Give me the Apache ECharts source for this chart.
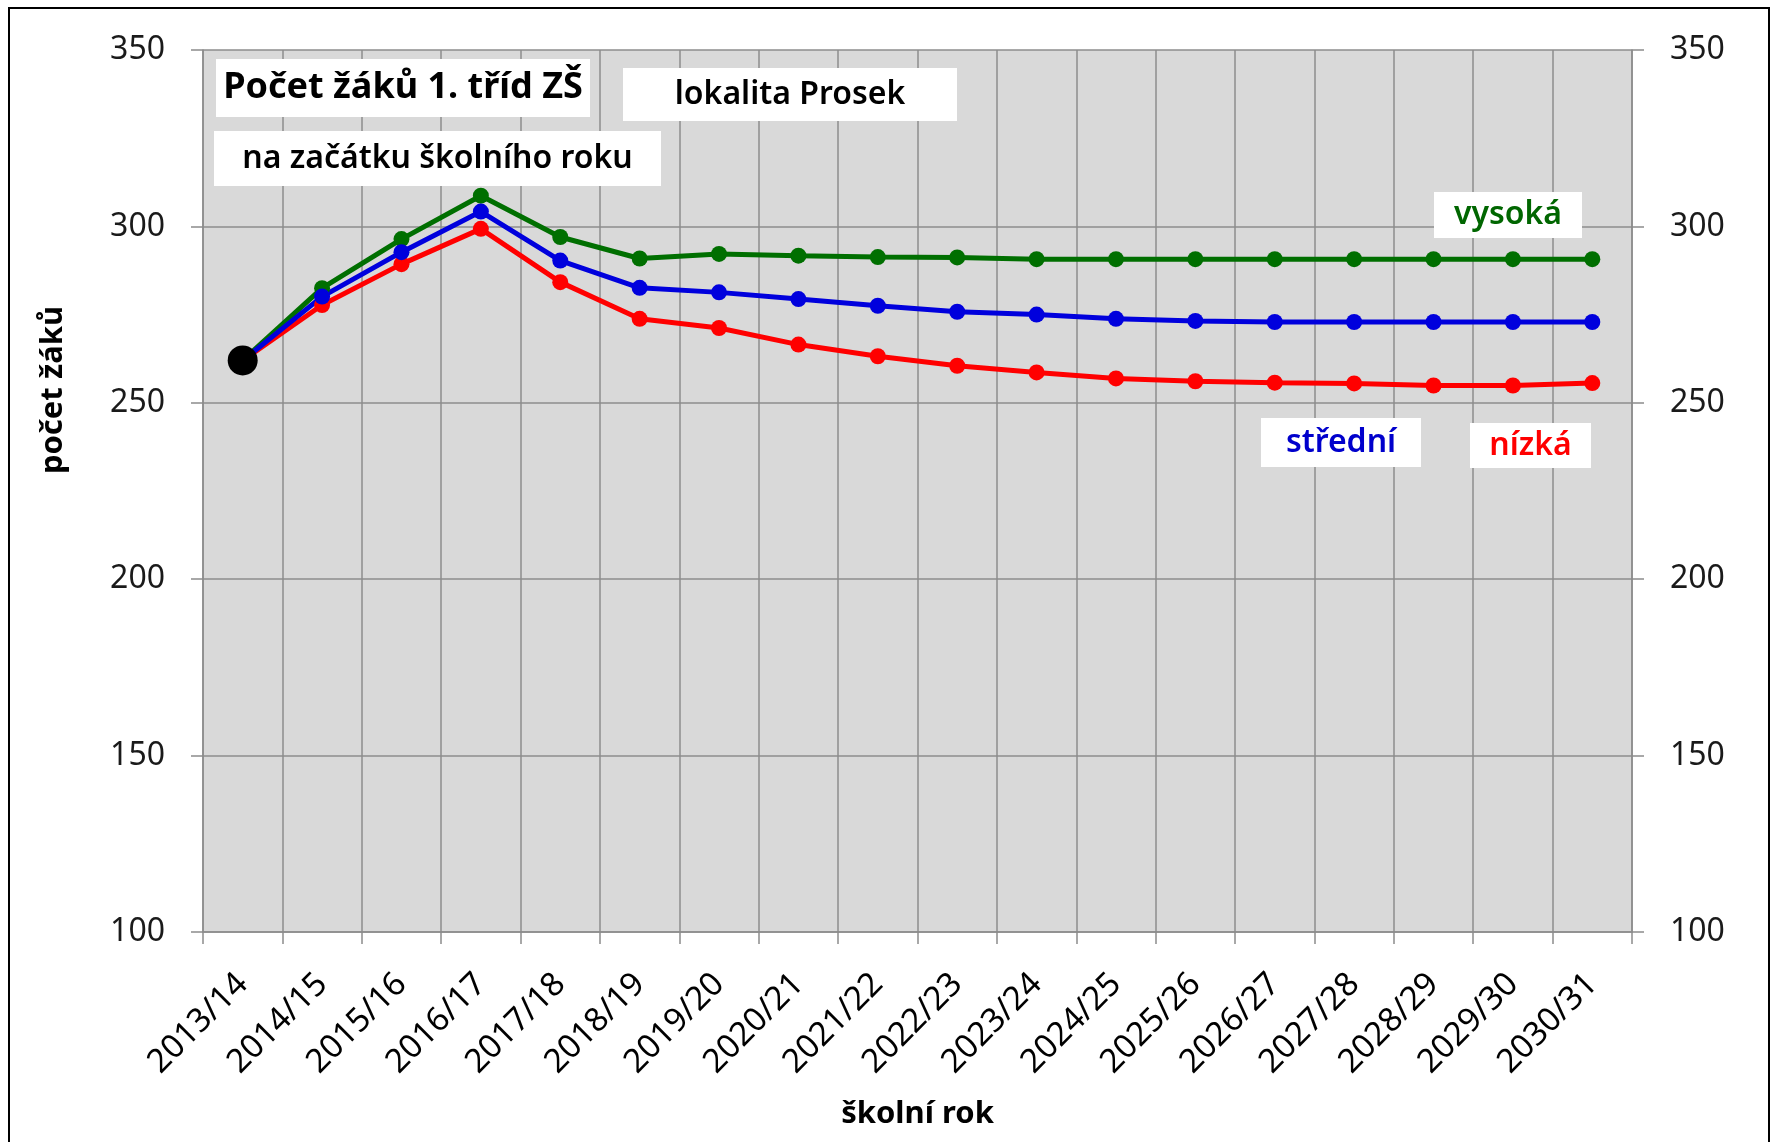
<!DOCTYPE html>
<html>
<head>
<meta charset="utf-8">
<title>Počet žáků 1. tříd ZŠ – lokalita Prosek</title>
<script src="https://cdn.jsdelivr.net/npm/echarts@6/dist/echarts.min.js"></script>
<style>
  html, body { margin: 0; padding: 0; background: #fff; }
  #chart { width: 1775px; height: 1142px; }
</style>
</head>
<body>
<div id="chart"></div>
<script>
// school years on the x axis
const years = [
  "2013/14", "2014/15", "2015/16", "2016/17", "2017/18", "2018/19",
  "2019/20", "2020/21", "2021/22", "2022/23", "2023/24", "2024/25",
  "2025/26", "2026/27", "2027/28", "2028/29", "2029/30", "2030/31",
];

// actual value (only first year)
const skutecnost = [262, null, null, null, null, null, null, null, null,
  null, null, null, null, null, null, null, null, null];

// projection variants
const vysoka = [262, 282.5, 296.4, 308.7, 297, 290.9, 292.2, 291.7, 291.3,
  291.2, 290.7, 290.7, 290.7, 290.7, 290.7, 290.7, 290.7, 290.7];
const stredni = [262, 280.1, 292.7, 304.2, 290.3, 282.6, 281.3, 279.4, 277.5,
  275.8, 275, 273.8, 273.2, 272.9, 272.9, 272.9, 272.9, 272.9];
const nizka = [262, 277.7, 289.3, 299.3, 284.2, 273.8, 271.2, 266.5, 263.2,
  260.5, 258.6, 256.9, 256.1, 255.7, 255.5, 254.9, 254.9, 255.6];

const yTicks = { min: 100, max: 350, interval: 50 };

const FONT = "'Noto Sans', 'DejaVu Sans', sans-serif";
const GRID_COLOR = "#8c8c8c";

let myChart = echarts.init(document.getElementById("chart"));

function lineSeries(name, data, color) {
  return {
    name: name,
    type: "line",
    data: data,
    symbol: "circle",
    symbolSize: 16,
    lineStyle: { width: 5, color: color },
    itemStyle: { color: color },
  };
}

// white label boxes inside the plot
function labelBox(x, y, w, h, text, color, size, weight) {
  return [
    {
      type: "rect",
      shape: { x: x, y: y, width: w, height: h },
      style: { fill: "#fff" },
      z: 50,
    },
    {
      type: "text",
      x: x + w / 2,
      y: y + h / 2,
      style: {
        text: text,
        fill: color,
        font: weight + " " + size + "px " + FONT,
        align: "center",
        verticalAlign: "middle",
      },
      z: 51,
    },
  ];
}

let yAxisCommon = {
  type: "value",
  min: yTicks.min,
  max: yTicks.max,
  interval: yTicks.interval,
  axisLine: { show: true, lineStyle: { color: GRID_COLOR, width: 1.5 } },
  axisTick: { show: true, inside: false, length: 12, lineStyle: { color: GRID_COLOR, width: 1.5 } },
  axisLabel: { color: "#1a1a1a", fontSize: 32, fontFamily: FONT, margin: 38 },
};

let option = {
  backgroundColor: "#fff",
  animation: false,
  grid: {
    left: 203,
    right: 143,
    top: 50,
    bottom: 210,
    containLabel: false,
    outerBoundsMode: "none",
    show: true,
    backgroundColor: "#d9d9d9",
    borderWidth: 0,
  },
  xAxis: {
    type: "category",
    data: years,
    boundaryGap: true,
    name: "školní rok",
    nameLocation: "middle",
    nameGap: 167,
    nameMoveOverlap: false,
    nameTextStyle: { color: "#000", fontSize: 31, fontWeight: "bold", fontFamily: FONT },
    axisLine: { show: true, lineStyle: { color: GRID_COLOR, width: 1.5 } },
    axisTick: { show: true, alignWithLabel: false, length: 12, lineStyle: { color: GRID_COLOR, width: 1.5 } },
    splitLine: { show: true, lineStyle: { color: GRID_COLOR, width: 1.5 } },
    axisLabel: {
      interval: 0,
      rotate: 45,
      margin: 47,
      color: "#000",
      fontSize: 33,
      fontFamily: FONT,
    },
  },
  yAxis: [
    Object.assign({}, yAxisCommon, {
      position: "left",
      splitLine: { show: true, lineStyle: { color: GRID_COLOR, width: 1.5 } },
    }),
    Object.assign({}, yAxisCommon, {
      position: "right",
      splitLine: { show: false },
    }),
  ],
  series: [
    lineSeries("vysoká", vysoka, "#006f00"),
    lineSeries("nízká", nizka, "#ff0000"),
    lineSeries("střední", stredni, "#0000dd"),
    {
      name: "skutečnost",
      type: "line",
      data: skutecnost,
      symbol: "circle",
      symbolSize: 30,
      itemStyle: { color: "#000" },
      lineStyle: { width: 0 },
      z: 10,
    },
  ],
  graphic: [
    // outer frame
    {
      type: "rect",
      shape: { x: 9, y: 8, width: 1760, height: 1200 },
      style: { fill: "none", stroke: "#000", lineWidth: 2 },
      z: 60,
    },
    // y axis title
    {
      type: "text",
      x: 53,
      y: 390,
      rotation: Math.PI / 2,
      style: {
        text: "počet žáků",
        fill: "#000",
        font: "bold 31px " + FONT,
        align: "center",
        verticalAlign: "middle",
      },
    },
    ...labelBox(216, 59, 374, 58, "Počet žáků 1. tříd ZŠ", "#000", 36, "bold"),
    ...labelBox(214, 131, 447, 55, "na začátku školního roku", "#000", 32, "600"),
    ...labelBox(623, 68, 334, 53, "lokalita Prosek", "#000", 32, "600"),
    ...labelBox(1434, 192, 148, 46, "vysoká", "#006600", 32, "600"),
    ...labelBox(1261, 418, 160, 49, "střední", "#0000cc", 32, "600"),
    ...labelBox(1470, 423, 121, 45, "nízká", "#ff0000", 32, "600"),
  ],
};

myChart.setOption(option);
</script>
</body>
</html>
